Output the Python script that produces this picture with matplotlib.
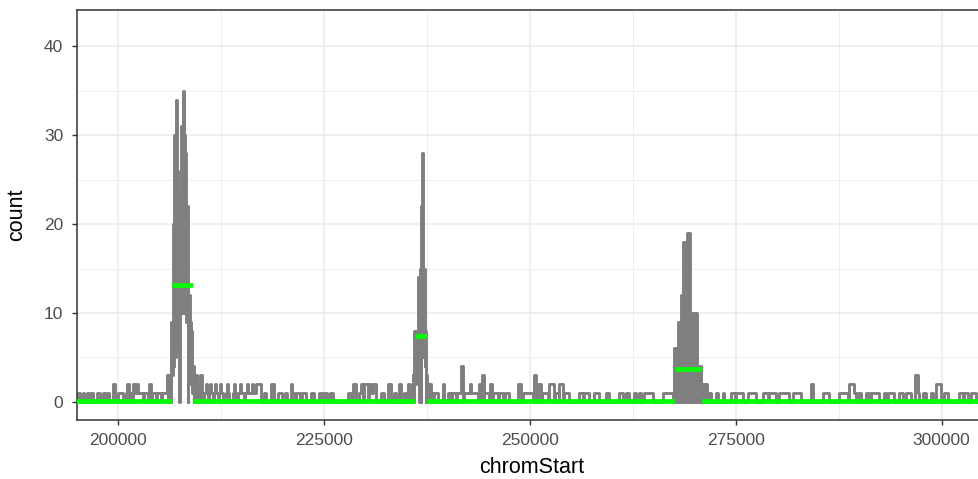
import matplotlib
matplotlib.use("Agg")
import matplotlib.pyplot as plt
from matplotlib.ticker import MultipleLocator

plt.rcParams['font.family'] = ['Liberation Sans', 'DejaVu Sans']

# coverage profile: each count holds from its chromStart until the next one
cov_start = [
    190000, 195061, 195425, 195752, 195947, 196274, 196481, 196760, 196966, 197451,
    197852, 198180, 198580, 198787, 198981, 199466, 199709, 200000, 200607, 201007,
    201189, 201311, 201408, 201529, 201735, 201857, 202039, 202342, 202464, 203034,
    203228, 203641, 203835, 204041, 204163, 204648, 204733, 205255, 205340,
    # first peak
    205947, 206068, 206141, 206250, 206323, 206432, 206493, 206614, 206663, 206784,
    206833, 206966, 207015, 207160, 207209, 207355, 207403, 207464, 207512, 207634,
    207682, 207828, 207876, 207998, 208046, 208168, 208216, 208338, 208386, 208532,
    208592, 208714, 208762, 208884, 208932, 209054, 209102, 209223, 209272, 209381,
    209442, 209624, 209745, 209927, 209988, 210170, 210352, 210510, 210716, 210837,
    210922, 211117, 211202, 211323, 211529, 211723, 211808, 211929, 212136, 212330,
    212415, 212536, 212743, 213143, 213265, 213386, 213507, 213956, 214114, 214235,
    214357, 214600, 214842, 214964, 215328, 215449, 215692, 215813, 216299, 216420,
    216784, 217391, 217755, 217998, 218604, 219005, 219454, 219940, 220304, 220547,
    221031, 221213, 221432, 221639, 222124, 222367, 222852, 223459, 223860, 224466,
    224794, 225037, 225401, 225704, 226093, 227913, 228313, 228520, 228920, 229321,
    229527, 229733, 229891, 230340, 230534, 230740, 230983, 231347, 231954, 232318,
    232767, 233168, 233568, 233775, 234175, 234381, 234782, 234988, 235194, 235474,
    # second peak
    235801, 235898, 235959, 236080, 236129, 236250, 236299, 236420, 236469, 236590,
    236639, 236760, 236809, 236918, 236954, 237088, 237136, 237258, 237306, 237391,
    237440, 237561, 237610, 237779, 237901, 238022, 238265, 238386, 238835, 239442,
    239636, 240049, 240450, 240571, 241057, 241178, 241663, 241943, 242064, 242756,
    242877, 243690, 243885, 244091, 244212, 244418, 244491, 245098, 245219, 245425,
    245510, 246153, 246275, 246760, 246942, 247525, 248544, 248944, 249151, 250364,
    250486, 250765, 250971, 251372, 251493, 252185, 252379, 252986, 253107, 253520,
    253593, 254005, 254200, 254806, 256020, 256432, 256627, 257233, 257840, 258447,
    259260, 259661, 260874, 261287, 261688, 262088, 262695, 262901, 263302, 263508,
    263909, 264928, 266142, 267356,
    # third peak
    267549, 267695, 267755, 267913, 267974, 268119, 268168, 268362, 268411, 268556,
    268605, 268799, 268848, 269018, 269066, 269236, 269284, 269503, 269551, 269721,
    269770, 269891, 269940, 270110, 270158, 270268, 270425, 270474, 270644, 270692,
    270838, 270886, 271032, 271081, 271275, 271323, 271481,
    271797, 272003, 272610, 272816, 273423, 273617, 274430, 274916, 275037, 275850,
    276457, 277464, 278277, 278920, 279041, 279891, 280292, 281506, 281918, 282925,
    284139, 284418, 285559, 286360, 287574, 288593, 288787, 289394, 289600, 289806,
    290207, 290813, 291214, 291420, 292427, 293034, 293240, 293446, 294247, 294854,
    295266, 295668, 296274, 296796, 297087, 297245, 297694, 298095, 298702, 298908,
    299309, 299916, 300317, 300729, 302137, 302550, 302744, 303157, 303558, 304165,
    310000,
]
cov_count = [
    0, 1, 0, 1, 0, 1, 0, 1, 0, 1,
    0, 1, 0, 1, 0, 2, 0, 1, 0, 1,
    2, 1, 0, 1, 0, 2, 1, 2, 1, 0,
    1, 0, 2, 0, 1, 0, 1, 0, 1,
    3, 0, 3, 0, 3, 0, 9, 3, 20, 4,
    30, 5, 34, 6, 26, 8, 20, 0, 24, 10,
    31, 10, 35, 12, 30, 10, 28, 9, 22, 0,
    12, 3, 9, 2, 8, 1, 4, 0, 3, 0,
    3, 0, 2, 0, 3, 1, 0, 1, 2, 1,
    0, 1, 2, 1, 0, 1, 2, 1, 0, 1,
    2, 1, 0, 1, 2, 1, 0, 1, 2, 1,
    0, 1, 2, 1, 0, 1, 2, 1, 2, 1,
    2, 0, 1, 0, 2, 0, 1, 0, 1, 0,
    2, 1, 0, 1, 0, 1, 0, 1, 0, 1,
    0, 1, 0, 1, 0, 1, 0, 2, 0, 1,
    2, 0, 2, 0, 2, 1, 2, 0, 1, 0,
    2, 0, 1, 0, 2, 0, 1, 0, 2, 0,
    3, 0, 8, 2, 8, 3, 7, 2, 14, 0,
    15, 0, 22, 5, 28, 5, 15, 4, 8, 0,
    3, 0, 2, 0, 2, 1, 0, 1, 0, 2,
    0, 1, 0, 1, 0, 1, 4, 0, 1, 2,
    1, 0, 2, 0, 3, 0, 1, 0, 2, 0,
    1, 0, 1, 0, 1, 0, 2, 0, 1, 0,
    3, 0, 2, 0, 1, 0, 2, 0, 1, 0,
    2, 0, 1, 0, 1, 0, 1, 0, 1, 0,
    1, 0, 1, 0, 1, 0, 1, 0, 1, 0,
    1, 0, 1, 0,
    6, 0, 6, 0, 9, 0, 9, 0, 12, 0,
    18, 0, 18, 0, 19, 0, 19, 0, 10, 0,
    5, 0, 10, 0, 10, 4, 0, 4, 0, 4,
    0, 2, 0, 2, 0, 2, 0,
    1, 0, 1, 0, 1, 0, 1, 0, 1, 0,
    1, 0, 1, 0, 1, 0, 1, 0, 1, 0,
    2, 0, 1, 0, 1, 0, 2, 1, 0, 1,
    0, 1, 0, 1, 0, 1, 0, 1, 0, 1,
    0, 1, 0, 3, 1, 0, 1, 0, 1, 0,
    2, 0, 1, 0, 1, 0, 1, 0, 1, 0,
    0,
]

# segmentation: mean count on each segment
seg_start = [190000, 206650, 209180, 236120, 237500, 267670, 270910]
seg_end = [206650, 209180, 236120, 237500, 267670, 270910, 310000]
seg_mean = [0.05, 13.2, 0.1, 7.4, 0.1, 3.7, 0.05]

x_ticks = [200000, 225000, 250000, 275000, 300000]
y_ticks = [0, 10, 20, 30, 40]

fig = plt.figure(figsize=(9.79, 4.79), dpi=100)
xmin, xmax = 195024, 305500
ax_w = (xmax - xmin) / 121.36 / 979
ax = fig.add_axes([76.7 / 979, 59 / 479, ax_w, 410 / 479])

ax.step(cov_start, cov_count, where='post', color='#7F7F7F', lw=2.1, zorder=2)
ax.hlines(seg_mean, seg_start, seg_end, color='#00FF00', lw=3.4, zorder=3,
          capstyle='butt')

ax.set_xlim(xmin, xmax)
ax.set_ylim(-2.05, 44.1)
ax.set_xticks(x_ticks, labels=[str(t) for t in x_ticks])
ax.set_yticks(y_ticks, labels=[str(t) for t in y_ticks])
ax.xaxis.set_minor_locator(MultipleLocator(12500))
ax.yaxis.set_minor_locator(MultipleLocator(5))

ax.set_axisbelow(True)
ax.grid(which='major', color='#EBEBEB', lw=1.1)
ax.grid(which='minor', color='#EBEBEB', lw=0.55)
for s in ax.spines.values():
    s.set_color('#333333')
    s.set_linewidth(1.1)
ax.tick_params(which='major', length=3.6, width=1.0, color='#333333',
               labelcolor='#4D4D4D', labelsize=12.5, pad=6)
ax.tick_params(which='minor', length=0)

ax.set_xlabel('chromStart', fontsize=15.5, labelpad=6)
ax.set_ylabel('count', fontsize=15.5, labelpad=12)

fig.savefig('out.png', dpi=100)
